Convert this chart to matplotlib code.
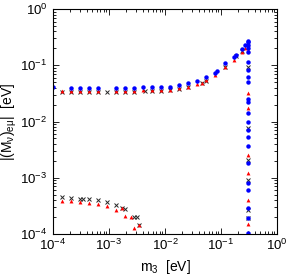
import numpy as np
import matplotlib
matplotlib.use('Agg')
import matplotlib.pyplot as plt

plt.rcParams['font.family'] = ['Liberation Sans', 'DejaVu Sans']
plt.rcParams['mathtext.default'] = 'regular'

# upper branch
blue_m3 = [1.0e-4, 2.1e-4, 3.05e-4, 4.4e-4, 6.4e-4, 1.35e-3, 1.95e-3, 2.8e-3, 4.1e-3, 5.9e-3,
           8.5e-3, 1.23e-2, 1.78e-2, 2.6e-2, 3.7e-2, 5.4e-2, 7.8e-2, 8.5e-2, 0.117, 0.17,
           0.185, 0.24, 0.27]
blue_val = [0.041, 0.040, 0.040, 0.040, 0.040, 0.040, 0.040, 0.040, 0.041, 0.041,
            0.041, 0.042, 0.0446, 0.048, 0.0525, 0.061, 0.074, 0.078, 0.108, 0.142,
            0.15, 0.195, 0.226]

red_m3 = [1.45e-4, 2.1e-4, 3.05e-4, 4.4e-4, 6.4e-4, 1.35e-3, 1.95e-3, 2.8e-3, 4.1e-3, 5.9e-3,
          8.5e-3, 1.23e-2, 1.78e-2, 2.6e-2, 3.7e-2, 4.6e-2, 5.4e-2, 7.8e-2, 0.117, 0.17,
          0.24, 0.27]
red_val = [0.035, 0.035, 0.035, 0.035, 0.035, 0.035, 0.035, 0.035, 0.036, 0.036,
           0.036, 0.037, 0.039, 0.042, 0.046, 0.049, 0.054, 0.067, 0.095, 0.125,
           0.17, 0.20]

gray_m3 = [1.45e-4, 2.1e-4, 3.05e-4, 4.4e-4, 6.4e-4, 9.3e-4, 1.35e-3, 1.95e-3, 2.8e-3, 4.4e-3,
           5.9e-3, 8.5e-3, 1.23e-2, 1.78e-2, 2.6e-2, 4.6e-2, 5.4e-2, 0.117, 0.185, 0.24]
gray_val = [0.034, 0.034, 0.034, 0.034, 0.034, 0.034, 0.034, 0.034, 0.034, 0.035,
            0.035, 0.035, 0.036, 0.038, 0.041, 0.049, 0.052, 0.093, 0.145, 0.18]

# lower branch
gray_low_m3 = [1.47e-4, 2.12e-4, 3.08e-4, 3.48e-4, 4.45e-4, 6.44e-4, 9.33e-4, 1.35e-3,
               1.73e-3, 1.95e-3, 2.83e-3, 3.2e-3, 3.39e-3]
gray_low = [4.49e-4, 4.42e-4, 4.24e-4, 4.24e-4, 4.14e-4, 3.97e-4, 3.75e-4, 3.32e-4,
            2.94e-4, 2.78e-4, 1.98e-4, 2.03e-4, 1.43e-4]
red_low_m3 = [1.47e-4, 2.12e-4, 3.08e-4, 4.45e-4, 6.44e-4, 9.33e-4, 1.35e-3, 1.73e-3,
              1.95e-3, 2.5e-3, 2.83e-3, 3.39e-3]
red_low = [3.91e-4, 3.81e-4, 3.71e-4, 3.51e-4, 3.38e-4, 3.18e-4, 2.67e-4, 2.94e-4,
           2.11e-4, 2.03e-4, 1.26e-4, 1.43e-4]

# points stacked at the largest m3
m3_max = 0.30
blue_col = [0.27, 0.259, 0.229, 0.203, 0.172, 0.114, 0.0824, 0.0618, 0.0504, 0.0251,
            0.0222, 0.0142, 0.0098, 0.00706, 0.0053, 0.00367, 0.00183, 8.07e-4, 6.05e-4,
            2.9e-4, 1.92e-4, 1.05e-4]
red_col = [0.239, 0.187, 0.0321, 0.0174, 0.00254, 0.00121, 4.02e-4, 1.51e-4]
gray_col = [0.093, 0.00766, 0.00207, 9.1e-4, 2.67e-4, 1.9e-4]

fig = plt.figure(figsize=(2.89, 2.75), dpi=100)
ax = fig.add_axes([0.1834, 0.149, 0.7751, 0.818])

gray_kw = dict(ls='none', marker='x', color='0.15', ms=2.6, mew=0.7)
red_kw = dict(ls='none', marker='^', color='red', ms=2.8, mew=0)
blue_kw = dict(ls='none', marker='o', color='blue', ms=3.2, mew=0)

ax.plot(gray_m3, gray_val, **gray_kw)
ax.plot(gray_low_m3, gray_low, **gray_kw)
ax.plot([m3_max] * len(gray_col), gray_col, **gray_kw)
ax.plot(red_m3, red_val, **red_kw)
ax.plot(red_low_m3, red_low, **red_kw)
ax.plot([m3_max] * len(red_col), red_col, **red_kw)
ax.plot(blue_m3, blue_val, **blue_kw)
ax.plot([m3_max] * len(blue_col), blue_col, **blue_kw)

ax.set_xscale('log')
ax.set_yscale('log')
ax.set_xlim(1e-4, 1)
ax.set_ylim(1e-4, 1)
ax.tick_params(which='both', direction='in', top=True, right=True, labelsize=9.5, width=0.6)
ax.tick_params(which='major', length=4, pad=4)
ax.tick_params(axis='x', which='major', pad=3)
ax.tick_params(which='minor', length=2)
for s in ax.spines.values():
    s.set_linewidth(0.8)

ax.set_xlabel(r'm$_3$  [eV]', fontsize=10)
ax.xaxis.set_label_coords(0.5, -0.105)
ax.set_ylabel(r'$|(M_\nu)_{e\mu}|$  [eV]', fontsize=10, labelpad=1)

fig.savefig('out.png', dpi=100)
